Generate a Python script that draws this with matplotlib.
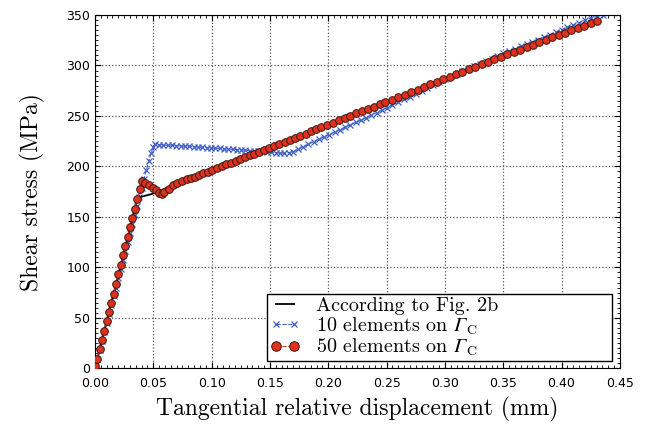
import matplotlib
matplotlib.use("Agg")
import matplotlib.pyplot as plt
from matplotlib.ticker import MultipleLocator

# italic capital Gamma through the rm slot, upright C through the sf slot
plt.rcParams['mathtext.fontset'] = 'custom'
plt.rcParams['mathtext.rm'] = 'STIXGeneral:italic'
plt.rcParams['mathtext.sf'] = 'cmr10'

# reference curve (According to Fig. 2b)
ref_x = [0.000, 0.036, 0.040, 0.048, 0.055, 0.060, 0.065, 0.070, 0.080,
         0.090, 0.100, 0.200, 0.300, 0.4305]
ref_y = [0.0, 167.0, 170.0, 172.5, 175.0, 178.0, 181.0, 184.0, 188.3,
         192.0, 196.5, 241.5, 287.0, 344.3]

# 10 elements on Gamma_C
e10_x = [0.000, 0.002, 0.004, 0.006, 0.008, 0.010, 0.012, 0.014, 0.016, 0.018,
         0.020, 0.022, 0.024, 0.026, 0.028, 0.030, 0.032, 0.034, 0.036, 0.038,
         0.040, 0.042, 0.044, 0.046, 0.048, 0.050, 0.0515,
         0.0550, 0.0587, 0.0624, 0.0661, 0.0698, 0.0735, 0.0772, 0.0809, 0.0846,
         0.0883, 0.0920, 0.0957, 0.0994, 0.1031, 0.1068, 0.1105, 0.1142, 0.1179,
         0.1216, 0.1253, 0.1290, 0.1327, 0.1364, 0.1401, 0.1438, 0.1475, 0.1512,
         0.1549, 0.1586, 0.1623, 0.1660, 0.1697, 0.1740, 0.1785, 0.1830, 0.1875,
         0.1920, 0.1965, 0.2010, 0.2055, 0.2100, 0.2145, 0.2190, 0.2235, 0.2280,
         0.2325, 0.2370, 0.2415, 0.2460, 0.2505, 0.2550, 0.2600, 0.2650, 0.2700,
         0.2750, 0.2800, 0.2850, 0.2900, 0.2950, 0.3000, 0.3050, 0.3100, 0.3150,
         0.3200, 0.3250, 0.3300, 0.3350, 0.3400, 0.3450, 0.3500, 0.3550, 0.3600,
         0.3650, 0.3700, 0.3750, 0.3800, 0.3850, 0.3900, 0.3950, 0.4000, 0.4050,
         0.4100, 0.4150, 0.4200, 0.4250, 0.4300, 0.4357]
e10_y = [0.0, 9.0, 18.0, 27.0, 36.0, 45.0, 54.0, 63.0, 72.0, 80.0,
         89.0, 98.0, 107.0, 116.0, 125.0, 134.0, 143.0, 152.0, 161.0, 170.0,
         179.0, 188.0, 196.0, 205.0, 213.0, 219.0, 222.0,
         221.5, 221.3, 221.0, 220.8, 220.5, 220.3, 220.0, 219.8, 219.5,
         219.3, 219.0, 218.7, 218.4, 218.1, 217.8, 217.5, 217.2, 216.9,
         216.6, 216.3, 216.0, 215.7, 215.4, 215.1, 214.8, 214.5, 214.1,
         213.7, 213.3, 213.1, 213.3, 214.6, 217.0, 219.5, 222.0, 224.5,
         227.0, 229.3, 231.6, 234.0, 236.4, 238.8, 241.2, 243.6, 246.0,
         248.4, 250.8, 253.3, 255.8, 258.3, 260.8, 263.6, 266.4, 269.2,
         272.0, 274.8, 277.8, 280.8, 283.8, 286.8, 289.4, 291.9, 294.4,
         296.9, 299.4, 301.9, 304.4, 306.9, 309.4, 311.9, 314.2, 316.5,
         318.8, 321.1, 323.4, 325.7, 328.0, 330.5, 333.0, 335.4, 337.8,
         340.2, 342.5, 344.8, 346.8, 348.5, 350.0]

# 50 elements on Gamma_C
e50_x = [0.000, 0.002, 0.004, 0.006, 0.008, 0.010, 0.012, 0.014, 0.016, 0.018,
         0.020, 0.022, 0.024, 0.026, 0.028, 0.030, 0.032, 0.034, 0.036, 0.0386,
         0.0400, 0.0430, 0.0466, 0.0494, 0.0520, 0.0549, 0.0571, 0.0594, 0.0634,
         0.0666, 0.0706, 0.0743, 0.0786, 0.0820, 0.0857, 0.0894, 0.0929, 0.0966,
         0.1005, 0.1045, 0.1085, 0.1125, 0.1165, 0.1205, 0.1245, 0.1285, 0.1325,
         0.1365, 0.1405, 0.1445, 0.1490, 0.1535, 0.1580, 0.1625, 0.1670, 0.1715,
         0.1760, 0.1805, 0.1850, 0.1895, 0.1940, 0.1990, 0.2040, 0.2090, 0.2140,
         0.2190, 0.2240, 0.2290, 0.2340, 0.2390, 0.2440, 0.2490, 0.2545, 0.2600,
         0.2655, 0.2710, 0.2765, 0.2820, 0.2875, 0.2930, 0.2985, 0.3040, 0.3095,
         0.3150, 0.3205, 0.3260, 0.3315, 0.3370, 0.3425, 0.3480, 0.3535, 0.3590,
         0.3645, 0.3700, 0.3755, 0.3810, 0.3865, 0.3920, 0.3975, 0.4030, 0.4085,
         0.4140, 0.4195, 0.4250, 0.4305]
e50_y = [2.0, 9.0, 19.0, 28.0, 37.0, 47.0, 56.0, 65.0, 74.0, 84.0,
         93.0, 102.0, 112.0, 121.0, 130.0, 140.0, 149.0, 158.0, 167.5, 177.5,
         185.7, 184.0, 182.0, 179.0, 176.5, 174.0, 173.0, 175.0, 177.5,
         181.4, 184.0, 185.7, 187.4, 188.7, 190.0, 191.7, 193.0, 194.6,
         196.5, 198.5, 200.3, 202.0, 203.8, 205.5, 207.3, 209.0, 210.9,
         212.7, 214.6, 216.4, 218.4, 220.4, 222.4, 224.4, 226.5, 228.5,
         230.5, 232.6, 234.6, 236.7, 238.8, 241.2, 243.5, 245.8, 248.0,
         250.3, 252.6, 254.8, 257.0, 259.2, 261.4, 263.6, 266.0, 268.5,
         271.0, 273.5, 276.0, 278.6, 281.2, 283.7, 286.2, 288.7, 291.2,
         293.7, 296.2, 298.7, 301.2, 303.6, 306.0, 308.5, 311.0, 313.4,
         315.8, 318.2, 320.6, 323.0, 325.4, 327.8, 330.2, 332.6, 334.9,
         337.3, 339.6, 342.0, 344.3]

fig = plt.figure(figsize=(6.48, 4.25), dpi=100)
ax = fig.add_axes([0.1466, 0.1334, 0.81, 0.8313])

ax.plot(ref_x, ref_y, color='black', linewidth=1.3, zorder=3,
        label='According to Fig. 2b')
ax.plot(e10_x, e10_y, linestyle='--', color='#3f5fc4', linewidth=0.8,
        marker='x', markersize=4, markeredgewidth=0.9, zorder=2,
        label=r'10 elements on $\Gamma_{\mathsf{C}}$')
ax.plot(e50_x, e50_y, linestyle='--', color='#d93a26', linewidth=0.8,
        marker='o', markersize=5.5, markerfacecolor='#e0301e',
        markeredgecolor='#3a1a10', markeredgewidth=0.7, zorder=4,
        label=r'50 elements on $\Gamma_{\mathsf{C}}$')

ax.set_xlim(0, 0.45)
ax.set_ylim(0, 350)
ax.xaxis.set_major_locator(MultipleLocator(0.05))
ax.yaxis.set_major_locator(MultipleLocator(50))
ax.xaxis.set_minor_locator(MultipleLocator(0.005))
ax.yaxis.set_minor_locator(MultipleLocator(5))
ax.set_xticklabels(['%.2f' % v for v in ax.get_xticks()])
ax.set_yticklabels(['%d' % v for v in ax.get_yticks()])
ax.tick_params(which='both', direction='in', top=True, right=True,
               labelsize=9, colors='black')
ax.tick_params(axis='x', which='major', pad=6)
ax.tick_params(which='major', length=4)
ax.tick_params(which='minor', length=2, width=0.6)
ax.grid(True, which='major', linestyle=':', color='#555555', linewidth=0.9)

ax.set_xlabel('Tangential relative displacement (mm)', fontfamily='cmr10',
              fontsize=17, labelpad=5)
ax.set_ylabel('Shear stress (MPa)', fontfamily='cmr10', fontsize=17,
              labelpad=15)

leg = ax.legend(loc='lower left', bbox_to_anchor=(0.3276, 0.0207, 0.657, 0.18),
                mode='expand', borderaxespad=0,
                prop={'family': 'cmr10', 'size': 14.5},
                frameon=True, fancybox=False, edgecolor='black',
                framealpha=1, numpoints=2, markerscale=1.25, handlelength=1.5,
                handletextpad=0.8, borderpad=0.15, labelspacing=0.0)
leg.get_frame().set_linewidth(1.0)

fig.savefig('out.png', dpi=100)
